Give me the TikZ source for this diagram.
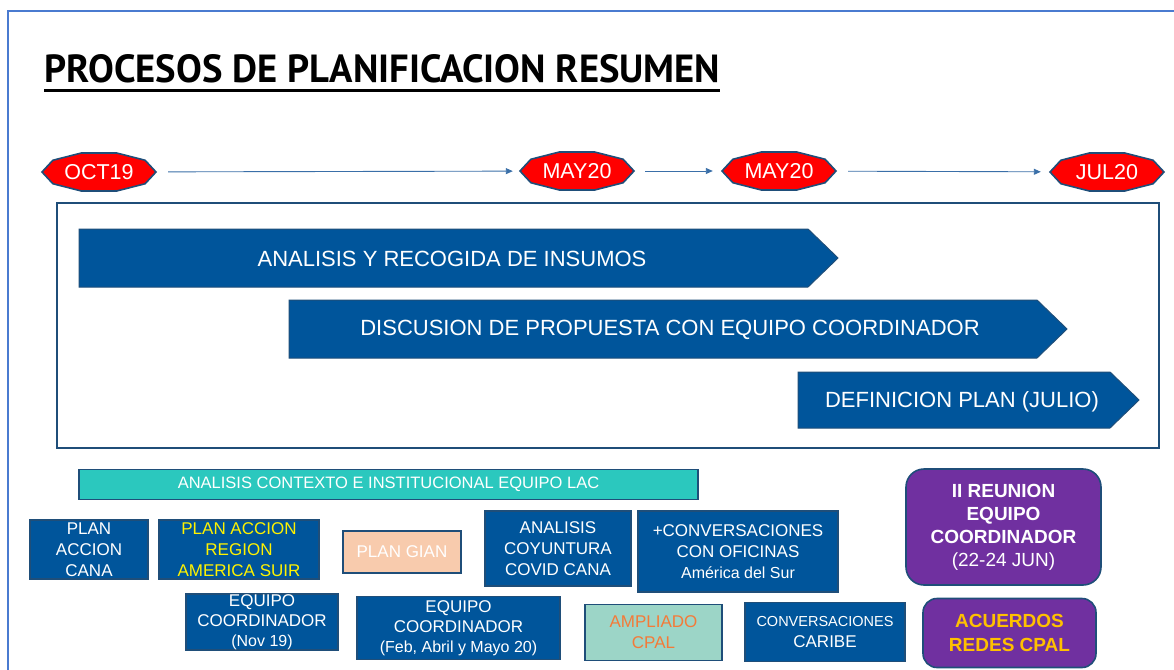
\documentclass[tikz,border=0pt]{standalone}
\usepackage{fontspec}
\setmainfont{Liberation Sans}
\newfontfamily\titlefont{PT Sans}
\usetikzlibrary{arrows.meta}
\definecolor{frameblue}{HTML}{4A7BD0}
\definecolor{dkblue}{HTML}{1F4E79}
\definecolor{boxblue}{HTML}{00559B}
\definecolor{tealc}{HTML}{2BC8BE}
\definecolor{purp}{HTML}{7030A0}
\definecolor{peach}{HTML}{F8CBAD}
\definecolor{ltteal}{HTML}{9CD5C7}
\definecolor{orangetxt}{HTML}{F47A38}
\definecolor{gold}{HTML}{FFC000}
\definecolor{arrowblue}{HTML}{3A6FA8}
\tikzset{
  datetext/.style={text=white,font=\fontsize{21.5}{24}\selectfont,inner sep=0pt},
  datefill/.style={fill=red,draw=dkblue,line width=1.6pt},
  tl/.style={draw=arrowblue,line width=0.9pt,-{Triangle[length=7pt,width=6pt]}},
  chev/.style={fill=boxblue,draw=dkblue,line width=1pt},
  chevtext/.style={text=white,font=\fontsize{22}{26}\selectfont,inner sep=0pt},
  bbox/.style={fill=boxblue,draw=dkblue,line width=1.4pt,text=white,align=center,inner sep=0pt,font=\fontsize{17}{21}\selectfont},
  rbox/.style={fill=purp,draw=dkblue,line width=1.6pt,align=center,inner sep=0pt,rounded corners=18pt},
}
\newcommand\datenode[4]{%
  \fill[datefill] (#2,#3) +(0:57 and 20) -- +(36:57 and 20) -- +(72:57 and 20) -- +(108:57 and 20) -- +(144:57 and 20) -- +(180:57 and 20) -- +(216:57 and 20) -- +(252:57 and 20) -- +(288:57 and 20) -- +(324:57 and 20) -- cycle;
  \node[datetext,minimum width=114pt,minimum height=40pt] (#1) at (#2,#3) {#4};}
\begin{document}
\begin{tikzpicture}[x=1pt,y=-1pt]
\useasboundingbox (0,0) rectangle (1174,669);
% frame
\draw[frameblue,line width=2pt] (7.5,680) -- (7.5,11.5) -- (1185,11.5);
% title
\node[anchor=south west,inner sep=0pt] (title) at (44,83) {\resizebox{676pt}{28pt}{\titlefont\bfseries PROCESOS DE PLANIFICACION RESUMEN}};
\draw[black,line width=3pt] (44,90) -- (720,90);
% dates
\datenode{d1}{99}{172}{OCT19}
\datenode{d2}{577}{171}{MAY20}
\datenode{d3}{779}{171}{MAY20}
\datenode{d4}{1107}{172}{JUL20}
\draw[tl,shorten <=12pt,shorten >=7pt] (d1) -- (d2);
\draw[tl,shorten <=11pt,shorten >=9pt] (d2) -- (d3);
\draw[tl,shorten <=12pt,shorten >=9pt] (d3) -- (d4);
% big frame
\draw[dkblue,line width=2pt,fill=white] (57,203) rectangle (1159,448);
% chevrons
\draw[chev] (79,229) -- (808,229) -- (838,258) -- (808,287) -- (79,287) -- cycle;
\node[chevtext] (c1) at (452,259) {ANALISIS Y RECOGIDA DE INSUMOS};
\draw[chev] (289,300) -- (1037,300) -- (1067,329) -- (1037,358) -- (289,358) -- cycle;
\node[chevtext] (c2) at (670,330) {DISCUSION DE PROPUESTA CON EQUIPO COORDINADOR};
\draw[chev] (798,372) -- (1110,372) -- (1139,400) -- (1110,428) -- (798,428) -- cycle;
\node[chevtext] (c3) at (962,402) {DEFINICION PLAN (JULIO)};
% lower boxes
\node[bbox,fill=tealc,minimum width=619pt,minimum height=30pt,font=\fontsize{16.5}{19}\selectfont] (lac) at (388.5,484.5) {ANALISIS CONTEXTO E INSTITUCIONAL EQUIPO LAC};
\node[bbox,minimum width=118pt,minimum height=59pt] (cana) at (89,549.5) {PLAN\\ACCION\\CANA};
\node[bbox,minimum width=160pt,minimum height=59pt,text=yellow] (region) at (239,549.5) {PLAN ACCION\\REGION\\AMERICA SUIR};
\node[bbox,fill=peach,minimum width=118pt,minimum height=42pt] (gian) at (402,552) {PLAN GIAN};
\node[bbox,minimum width=146pt,minimum height=75pt] (covid) at (558,548.5) {ANALISIS\\COYUNTURA\\COVID CANA};
\node[bbox,minimum width=200pt,minimum height=81pt] (conv) at (738,551.5) {+CONVERSACIONES\\CON OFICINAS\\{\fontsize{16}{21}\selectfont Am\'erica del Sur}};
\node[rbox,minimum width=195pt,minimum height=116pt,text=white,font=\fontsize{19}{23}\selectfont] (reunion) at (1003.5,527) {\textbf{II REUNION}\\\textbf{EQUIPO}\\\textbf{COORDINADOR}\\(22-24 JUN)};
\node[bbox,minimum width=152pt,minimum height=56pt,font=\fontsize{17}{20}\selectfont] (eq1) at (262,622) {EQUIPO\\COORDINADOR\\{\fontsize{16}{20}\selectfont(Nov 19)}};
\node[bbox,minimum width=203pt,minimum height=63pt,font=\fontsize{17}{20}\selectfont] (eq2) at (458.5,628) {EQUIPO\\COORDINADOR\\{\fontsize{16}{20}\selectfont(Feb, Abril y Mayo 20)}};
\node[bbox,fill=ltteal,text=orangetxt,minimum width=137pt,minimum height=56pt] (ampl) at (653.5,632.5) {AMPLIADO\\CPAL};
\node[bbox,minimum width=160pt,minimum height=59pt] (carib) at (825,632) {{\fontsize{14.5}{20}\selectfont CONVERSACIONES}\\CARIBE};
\node[rbox,rounded corners=14pt,minimum width=173pt,minimum height=69pt,text=gold,font=\fontsize{19}{24}\selectfont\bfseries] (acu) at (1009.5,633) {ACUERDOS\\REDES CPAL};
\end{tikzpicture}
\end{document}
